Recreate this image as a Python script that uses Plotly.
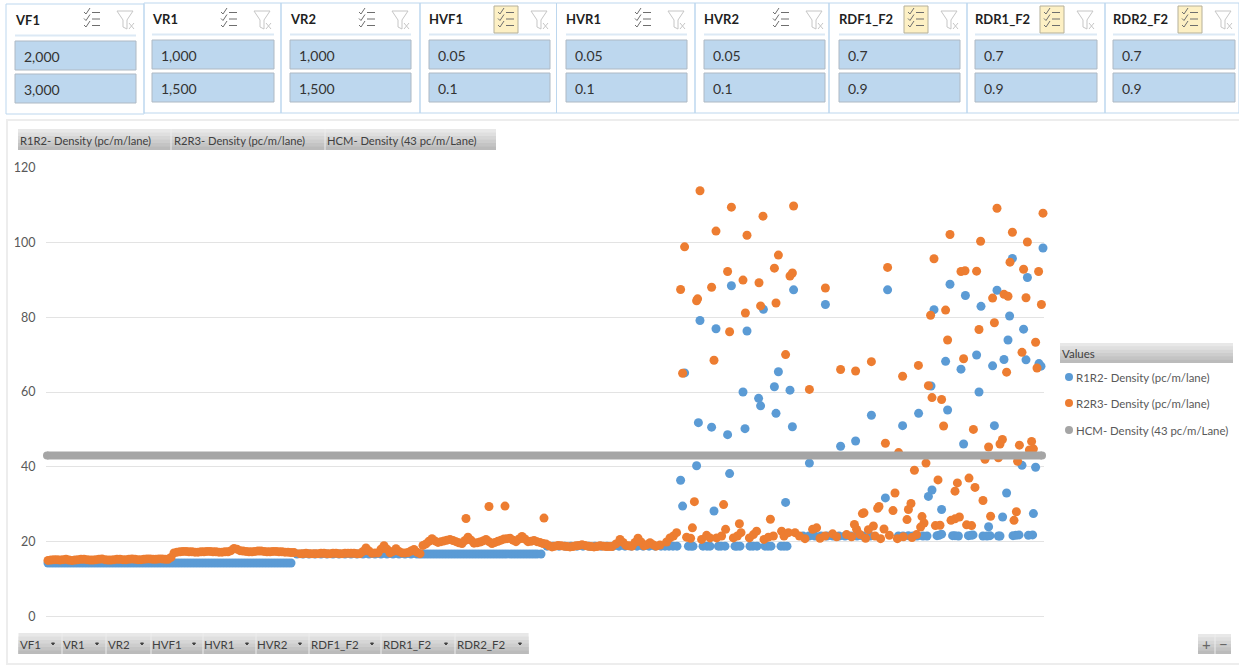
import plotly.graph_objects as go

W, H = 1239, 668
FONT = "Lato, sans-serif"

# ---------- data ----------
SLICER_NAMES = ["VF1", "VR1", "VR2", "HVF1", "HVR1", "HVR2", "RDF1_F2", "RDR1_F2", "RDR2_F2"]
SLICER_LOW = ["2,000", "1,000", "1,000", "0.05", "0.05", "0.05", "0.7", "0.7", "0.7"]
SLICER_HIGH = ["3,000", "1,500", "1,500", "0.1", "0.1", "0.1", "0.9", "0.9", "0.9"]
SLICER_ACTIVE = [False, False, False, True, False, False, True, True, True]
SERIES_NAMES = ["R1R2- Density (pc/m/lane)", "R2R3- Density (pc/m/lane)", "HCM- Density (43 pc/m/Lane)"]
FIELD_NAMES = SLICER_NAMES
Y_TICKS = [0, 20, 40, 60, 80, 100, 120]

R1R2_PLATEAU_1 = [(5.5,14.3),(7,14.3),(8.5,14.3),(10,14.3),(11.5,14.3),(13,14.3),(14.5,14.3),(16,14.3),(17.5,14.3),(19,14.3),(20.5,14.3),(22,14.3),(23.5,14.3),(25,14.3),(26.5,14.3),(28,14.3),(29.5,14.3),(31,14.3),(32.5,14.3),(34,14.3),
    (35.5,14.3),(37,14.3),(38.5,14.3),(40,14.3),(41.5,14.3),(43,14.3),(44.5,14.3),(46,14.3),(47.5,14.3),(49,14.3),(50.5,14.3),(52,14.3),(53.5,14.3),(55,14.3),(56.5,14.3),(58,14.3),(59.5,14.3),(61,14.3),(62.5,14.3),(64,14.3),
    (65.5,14.3),(67,14.3),(68.5,14.3),(70,14.3),(71.5,14.3),(73,14.3),(74.5,14.3),(76,14.3),(77.5,14.3),(79,14.3),(80.5,14.3),(82,14.3),(83.5,14.3),(85,14.3),(86.5,14.3),(88,14.3),(89.5,14.3),(91,14.3),(92.5,14.3),(94,14.3),
    (95.5,14.3),(97,14.3),(98.5,14.3),(100,14.3),(101.5,14.3),(103,14.3),(104.5,14.3),(106,14.3),(107.5,14.3),(109,14.3),(110.5,14.3),(112,14.3),(113.5,14.3),(115,14.3),(116.5,14.3),(118,14.3),(119.5,14.3),(121,14.3),(122.5,14.3),(124,14.3),(125.5,14.3),(127,14.3)]
R1R2_PLATEAU_2 = [(130,16.7),(133,16.7),(136,16.7),(139,16.7),(142,16.7),(145,16.7),(148,16.7),(151,16.7),(154,16.7),(157,16.7),
    (160,16.7),(163,16.7),(166,16.7),(169,16.7),(172,16.7),(175,16.7),(178,16.7),(181,16.7),(184,16.7),(187,16.7),
    (190,16.7),(191.5,16.7),(193,16.7),(194.5,16.7),(196,16.7),(197.5,16.7),(199,16.7),(200.5,16.7),(202,16.7),(203.5,16.7),(205,16.7),(206.5,16.7),(208,16.7),(209.5,16.7),(211,16.7),(212.5,16.7),(214,16.7),(215.5,16.7),(217,16.7),(218.5,16.7),
    (220,16.7),(221.5,16.7),(223,16.7),(224.5,16.7),(226,16.7),(227.5,16.7),(229,16.7),(230.5,16.7),(232,16.7),(233.5,16.7),(235,16.7),(236.5,16.7),(238,16.7),(239.5,16.7),(241,16.7),(242.5,16.7),(244,16.7),(245.5,16.7),(247,16.7),(248.5,16.7),(250,16.7),(252,16.7)]
R1R2_PLATEAU_3 = [(255,18.8),(258,18.8),(261,18.8),(264,18.8),(267,18.8),(270,18.8),(273,18.8),(276,18.8),(279,18.8),(282,18.8),
    (285,18.8),(288,18.8),(291,18.8),(294,18.8),(297,18.8),(300,18.8),(303,18.8),(306,18.8),(309,18.8),(312,18.8),
    (314,18.8),(316,18.8),(318,18.8),(320,18.8),(325.7,18.8),(327,18.8),(328,18.8),(333,18.8),(335,18.8),(336.5,18.8),(340.7,18.8),(342,18.8),(344,18.8),(349,18.8),(350,18.8),(351.5,18.8),
    (356.5,18.8),(358,18.8),(360,18.8),(364,18.8),(365.5,18.8),(367,18.8),(372,18.8),(373.5,18.8),(375,18.8)]
R1R2_PLATEAU_4 = [(383,21.5),(386,21.5),(389,21.5),(392,21.5),(395,21.5),(398,21.5),(401,21.5),(404,21.5),(407,21.5),(410,21.5),
    (413,21.5),(416.5,21.5),(430.7,21.5),(433,21.5),(435.7,21.6),(438,21.5),(440,21.5),(443,21.5),(445,21.5),(450,21.6),(451,21.7),(452.3,22),
    (457.8,21.6),(459,21.6),(460.7,21.5),(465.7,21.6),(467,21.7),(468,21.8),(473,21.5),(475,21.5),(476.5,21.6),(480.7,21.5),(481.5,21.5),(488,21.6),(489.5,21.7),(491,21.8),(495.7,21.7),(497.8,21.8)]
R1R2_SCATTER = [(503,98.5),(487.7,95.7),(495.2,90.6),(456.5,88.8),(347.2,88.4),(378.3,87.3),(425.3,87.3),(480,87.2),(464.2,85.8),
    (394.2,83.4),(363.2,82.1),(448.5,82),(472,82.9),(486.3,80.3),(331.5,79.1),(339.5,76.9),(355,76.3),(493.3,76.8),(485.5,73.9),
    (469.8,69.9),(454.3,68.2),(483.5,68.7),(494.5,68.6),(477.8,67),(462,66.1),(501,67.6),(502,66.9),(370.7,65.4),(323.8,65.1),
    (353,60),(368.7,61.4),(376.5,60.5),(360.8,58.3),(361.8,56.3),(369.5,54.3),(447,61.6),(471,60),(455.3,55.2),(440.8,54.3),
    (417.2,53.8),(330.7,51.8),(337.3,50.6),(354,50.2),(345.3,48.6),(377.7,50.7),(432.8,51),(478.7,51),(401.8,45.5),(409.3,46.9),
    (463.3,46.1),(386.2,41),(329.8,40.3),(492.5,40.4),(499.3,39.9),(346.3,38.2),(321.8,36.4),(447.5,33.8),(445.7,32.1),(424.2,31.7),
    (484.8,33),(322.8,29.5),(374.3,30.5),(338.5,28.2),(452.3,28.6),(482.8,26.6),(498.2,27.5),(475.8,24)]

R2R3_BASE = [(5.5,15),(7,15.1),(8.5,15.2),(10,15.2),(11.5,15.1),(13,15.2),(14.5,15.3),(16,15.1),(17.5,15),(19,15.1),(20.5,15.2),(22,15.3),(23.5,15.3),(25,15.2),(26.5,15.1),(28,15.1),(29.5,15.2),(31,15.3),(32.5,15.4),(34,15.2),
    (35.5,15.1),(37,15.1),(38.5,15.2),(40,15.3),(41.5,15.3),(43,15.2),(44.5,15.2),(46,15.3),(47.5,15.4),(49,15.3),(50.5,15.2),(52,15.2),(53.5,15.3),(55,15.4),(56.5,15.4),(58,15.3),(59.5,15.3),(61,15.4),(62.5,15.4),(64,15.3),(65.5,15.3),
    (67,15.8),(68.5,17),(70,17.2),(71.5,17.3),(73,17.4),(74.5,17.4),(76,17.3),(77.5,17.3),(79,17.2),(80.5,17.2),(82,17.3),(83.5,17.3),(85,17.4),(86.5,17.4),(88,17.3),(89.5,17.3),(91,17.2),(92.5,17.2),(94,17.3),(95.5,17.3),(97,17.6),
    (98.5,18.2),(100,18),(101.5,17.6),(103,17.5),(104.5,17.4),(106,17.3),(107.5,17.3),(109,17.4),(110.5,17.5),(112,17.5),(113.5,17.4),(115,17.3),(116.5,17.3),(118,17.4),(119.5,17.4),(121,17.3),(122.5,17.3),(124,17.2),(125.5,17.2),(127,17.1),(128.5,17.1),
    (131.5,16.8),(133,16.8),(134.5,16.9),(136,16.8),(137.5,16.8),(139,16.8),(140.5,16.8),(142,16.9),(143.5,16.9),(145,16.8),(146.5,16.8),(148,16.9),(149.5,16.9),(151,16.8),(152.5,16.8),(154,16.9),(155.5,16.9),(157,16.9),(158.5,16.9),(160,16.8),
    (161.5,16.8),(163,17.4),(164.5,18.3),(166,17.5),(167.5,16.9),(169,17),(170.5,17),(172,18),(173.5,18.9),(175,18),(176.5,17),(178,17.4),(179.5,18.1),(181,17.4),(182.5,17),(184,17),(185.5,17.1),(187,17.5),(188.5,17.9),(190,17.2),(191.5,16.8),
    (193,19),(194.5,19.4),(196,20.1),(197.5,20.8),(199,20.2),(200.5,19.8),(202,20),(203.5,20.2),(205,20.4),(206.5,20.6),(208,20.3),(209.5,20),(211,19.7),(212.5,19.5),(214,20.3),(215.5,21.2),(217,20.4),(218.5,19.6),(220,19.7),(221.5,19.9),
    (223,20.2),(224.5,20.6),(226,20),(227.5,19.5),(229,19.8),(230.5,20.1),(232,20.4),(233.5,20.7),(235,20.8),(236.5,20.9),(238,20.4),(239.5,20),(241,20.7),(242.5,21.4),(244,20.7),(245.5,20),(247,20.1),(248.5,20.3),(250,20),(251.5,19.8),(253,19.5),(254.5,19.4),
    (256,18.9),(257.5,18.6),(259,18.8),(260.5,19),(262,18.9),(263.5,18.8),(265,18.7),(266.5,18.6),(268,18.7),(269.5,18.9),(271,19),(272.5,19.2),(274,19),(275.5,18.8),(277,18.7),(278.5,18.6),(280,18.7),(281.5,18.9),(283,18.8),(284.5,18.7),
    (286,18.7),(287.5,18.7),(289.5,19.4),(291.5,20.6),(293,19.8),(294.5,19),(296,18.9),(297.5,18.8),(299,19.8),(300.5,20.9),(302,19.9),(303.5,18.9),(305,19.2),(306.5,19.7),(308,19.2),(309.5,18.8),(311.5,19.1),(314.8,19.9),
    (316.5,21),(318.2,21.5),(319.8,22.4),(324.8,21.2),(326.8,20.9),(332.3,20.6),(334.8,21.7),(336.5,21),(339.8,21),(342.3,21.5),
    (348.2,21),(350.2,21.5),(352,22.4),(356.2,21),(358.2,21.9),(359.8,22.8),(363.5,20.6),(365.7,21.2),(368.2,21.5),(372.3,22.8),
    (373.5,21.5),(375.7,22.4),(379,22.4),(381.2,21.5),(384,20.8),(387.8,23.3),(389.8,23.7),(391.5,20.9),(394,21.5),(397.8,22.1),
    (399.8,21.3),(404.8,21.9),(407.3,21.3),(409.8,23.3),(411.5,21.9),(414.3,20.9),(419,21.5),(421.8,20.8),(423.5,23.4),(426.2,21.7),
    (430.2,20.8),(433.2,21.3),(437.5,21.1),(439.8,21.9)]
R2R3_SCATTER = [(214.5,26.2),(226,29.4),(234,29.5),(253.5,26.3),
    (331.5,113.8),(347.2,109.4),(363,107),(378.3,109.7),(339.5,103),(355,101.9),(323.8,98.8),(370.7,96.6),(321.8,87.4),(330.3,84.9),
    (329.8,84.4),(337.3,88),(345.3,92.2),(353,89.9),(361,89.2),(368.7,93.1),(376.5,91),(377.7,91.8),(361.8,83),(369.5,83.8),(354.2,81.1),
    (346.3,76.1),(374.3,70),(338.5,68.5),(394.2,87.8),(425.3,93.3),(322.8,65),(448.5,95.6),(456.5,102.1),(471.8,100.3),(480,109.1),
    (487.7,102.7),(495.2,100.1),(503,107.8),(486.5,94.7),(462,92.2),(464,92.4),(469.8,92.3),(493.3,92.8),(500.8,92.2),(483.5,86.1),
    (485.5,85.6),(477.8,85.1),(494.5,85.2),(502.2,83.4),(446.8,80.5),(454.3,81.9),(478.7,78.5),(471,76.7),(455.3,73.9),(499.3,73.3),
    (492.5,70.6),(463.3,68.9),(440.7,67.1),(417.2,68.1),(401.8,66),(409.3,65.6),(484.8,65.3),(500,66.4),(432.8,64.2),(445.7,61.7),
    (386.2,60.7),(447.5,58.5),(452.3,58),(453.3,50.9),(468.2,50),(424.2,46.3),(482.7,47.3),(481.5,46.1),(475.8,45.3),(491.2,45.8),
    (497.3,46.8),(496.2,44.5),(498.2,44.8),(430.8,43.8),(474,42),(480.7,42.4),(490.3,41.5),(444.5,41),(438.7,39.1),(450.5,36.5),
    (466,37),(460.2,35.7),(469,34.5),(459,33.5),(429,33),(473,31),(437,30.2),(435.7,28.6),(421,29.4),(420.3,28.9),(428,28.3),
    (328.7,30.7),(343.3,29.9),(412.7,27.5),(413.5,27.7),(489.7,28),(442.5,26.7),(443.5,25),(441.8,23.9),(435,25.9),(476.8,26.8),
    (366.7,26),(488.5,25.7),(461.2,26.6),(459,26.1),(457,25.7),(464.8,24.5),(467.3,24.3),(449.2,24.3),(451.5,24.4),(408.7,24.6),
    (418.2,24.2),(415.7,23.2),(351.2,24.8),(327.7,23.7),(344.3,23.3)]

HCM_RUN = [5, 502.5]
HCM_VALUE = [43, 43]

BLUE, ORANGE, GRAY = "#5B9BD5", "#ED7D31", "#A5A5A5"

r1r2 = R1R2_PLATEAU_1 + R1R2_PLATEAU_2 + R1R2_PLATEAU_3 + R1R2_PLATEAU_4 + R1R2_SCATTER
r2r3 = R2R3_BASE + R2R3_SCATTER

fig = go.Figure()
for name, pts, col in [(SERIES_NAMES[0], r1r2, BLUE), (SERIES_NAMES[1], r2r3, ORANGE)]:
    fig.add_trace(go.Scatter(x=[p[0] for p in pts], y=[p[1] for p in pts], mode="markers", name=name,
                             cliponaxis=False, marker=dict(color=col, size=9, line=dict(width=0))))
fig.add_trace(go.Scatter(x=HCM_RUN, y=HCM_VALUE, mode="lines+markers", name=SERIES_NAMES[2], cliponaxis=False,
                         line=dict(color=GRAY, width=8), marker=dict(color=GRAY, size=8, line=dict(width=0))))

# ---------- page furniture ----------
shapes, notes = [], []
def X(p): return p / W
def Y(p): return 1 - p / H

def rect(x0, y0, x1, y1, fill="rgba(0,0,0,0)", line=None, width=1):
    shapes.append(dict(type="rect", xref="paper", yref="paper", x0=X(x0), x1=X(x1), y0=Y(y0), y1=Y(y1),
                       fillcolor=fill, line=dict(color=line or "rgba(0,0,0,0)", width=width if line else 0), layer="below"))

def seg(x0, y0, x1, y1, col, width=1):
    shapes.append(dict(type="line", xref="paper", yref="paper", x0=X(x0), x1=X(x1), y0=Y(y0), y1=Y(y1),
                       line=dict(color=col, width=width), layer="below"))

def path(pts, col, width=1, fill=None):
    d = "M" + " L".join(f"{X(a):.5f},{Y(b):.5f}" for a, b in pts)
    shapes.append(dict(type="path", xref="paper", yref="paper", path=d,
                       line=dict(color=col, width=width), fillcolor=fill or "rgba(0,0,0,0)", layer="below"))

def text(x, y, s, size=12, col="#404040", bold=False, anchor="left"):
    notes.append(dict(xref="paper", yref="paper", x=X(x), y=Y(y), text=f"<b>{s}</b>" if bold else s, showarrow=False,
                      xanchor=anchor, yanchor="middle", align=anchor, borderpad=0, borderwidth=0,
                      font=dict(family=FONT, size=size, color=col)))

def tab(x0, y0, x1, y1):
    # top-to-bottom grey gradient; each band runs to the bottom so no seams show
    n = 6
    for k in range(n):
        t0 = y0 + (y1 - y0) * k / n
        g = 232 - k * 9
        rect(x0, t0, x1, y1, fill=f"rgb({g},{g},{g})")

SL_BORDER = "#BDD7EE"
LEFT = [15, 152, 290, 429, 566, 704, 839, 975, 1113]
EDGE = [6, 144, 281, 420, 556.5, 695, 829, 967, 1105, 1239]
BTN_W = [121, 122, 121, 121, 121, 121, 121, 122, 122]
for i, name in enumerate(SLICER_NAMES):
    dy = 1 if i == 0 else 0
    left, right = LEFT[i], LEFT[i] + BTN_W[i]
    rect(EDGE[i], 3 + dy, EDGE[i + 1], 113 + dy, line=SL_BORDER)
    text(left, 19 + dy, name, size=13, bold=True, col="#1F1F1F")
    seg(left, 34.5 + dy, right, 34.5 + dy, "#DCE9F5", 2)
    rect(left, 40 + dy, right, 69 + dy, fill="#BDD7EE", line="#AEB9C4")
    rect(left, 73 + dy, right, 102 + dy, fill="#BDD7EE", line="#AEB9C4")
    text(left + 9, 55 + dy, SLICER_LOW[i], size=14, col="#333333")
    text(left + 9, 88 + dy, SLICER_HIGH[i], size=14, col="#333333")
    cx = left + 77
    if SLICER_ACTIVE[i]:
        rect(left + 65, 6, left + 89, 33, fill="#FDF0C4", line="#B5B09A")
    for ry in (12, 18.5, 25):
        path([(cx - 8, ry), (cx - 6, ry + 2), (cx - 2, ry - 4)], "#6E6E6E", 1)
        seg(cx, ry + 0.5, cx + 8, ry + 0.5, "#6E6E6E", 1)
    fx = left + 110
    path([(fx - 8, 11), (fx + 8, 11), (fx + 2, 20), (fx + 2, 29), (fx - 2, 27), (fx - 2, 20), (fx - 8, 11)], "#C6C6C6", 1)
    seg(fx + 4, 23, fx + 9, 29, "#C6C6C6", 1)
    seg(fx + 9, 23, fx + 4, 29, "#C6C6C6", 1)

# chart panel
rect(7, 120, 1240, 664, line="#EDEDED", width=2)

# series field tabs
tab(18, 129, 496, 150)
for sx in (171, 325):
    seg(sx, 129, sx, 150, "#EDEDED", 1)
for sx, s in zip((20, 174, 327), SERIES_NAMES):
    text(sx, 140, s, size=11.2)

# axis field tabs
tab(18.5, 633, 528.6, 654)
for sx in (62, 106, 151, 203, 256, 309, 381, 455):
    seg(sx, 633, sx, 654, "#EDEDED", 1)
for sx, ax, s in zip((20, 63, 108, 152, 204, 257, 311, 383, 457), (53, 97, 142, 194, 247, 300, 372, 446, 520), FIELD_NAMES):
    text(sx, 644, s, size=11.5)
    path([(ax - 1.5, 643), (ax + 1.5, 643), (ax, 645), (ax - 1.5, 643)], "#404040", 1, "#404040")

# legend
tab(1060, 343, 1233, 363)
text(1062, 353, "Values", size=11.5)
for ly, col, s in zip((377, 403, 430), (BLUE, ORANGE, GRAY), SERIES_NAMES):
    shapes.append(dict(type="circle", xref="paper", yref="paper", x0=X(1065), x1=X(1073), y0=Y(ly - 4), y1=Y(ly + 4),
                       fillcolor=col, line=dict(width=0), layer="below"))
    text(1076, ly, s, size=11.4, col="#595959")

# zoom buttons
tab(1198, 634, 1231, 654)
seg(1215, 634, 1215, 654, "#EDEDED", 1)
text(1206, 644, "+", size=15, col="#666666", anchor="center")
text(1223, 644, "−", size=15, col="#666666", anchor="center")

fig.update_layout(
    template="none", width=W, height=H, autosize=False, showlegend=False,
    margin=dict(l=0, r=0, t=0, b=0, pad=0), paper_bgcolor="white", plot_bgcolor="white",
    shapes=shapes, annotations=notes,
    xaxis=dict(domain=[46 / W, 1044 / W], range=[4.5, 503.5], visible=False, fixedrange=True, automargin=False),
    yaxis=dict(domain=[1 - 616.5 / H, 1 - 167.5 / H], range=[0, 120], tickvals=Y_TICKS, ticktext=[str(t) for t in Y_TICKS],
               automargin=False, showgrid=True, gridcolor="#E3E3E3", gridwidth=1, zeroline=True, zerolinecolor="#E3E3E3", zerolinewidth=1,
               showline=False, ticks="outside", ticklen=7, tickcolor="rgba(0,0,0,0)",
               tickfont=dict(family=FONT, size=12.5, color="#595959"), fixedrange=True),
)
fig.write_html("out.html", config=dict(displayModeBar=False),
               post_script="document.body.style.margin='0';document.body.style.overflow='hidden';")
